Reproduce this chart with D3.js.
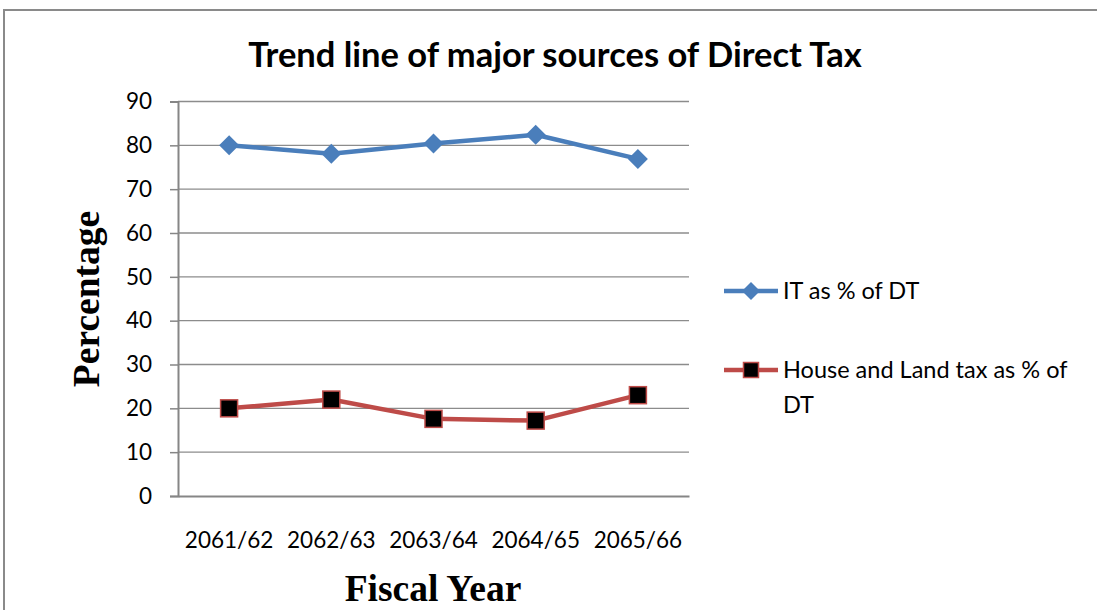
<!DOCTYPE html>
<html>
<head>
<meta charset="utf-8">
<script src="https://cdn.jsdelivr.net/npm/d3@7"></script>
<style>
  html, body { margin: 0; padding: 0; background: #ffffff; }
  svg { display: block; }
</style>
</head>
<body>
<svg id="chart" width="1097" height="610"></svg>
<script>
// Fiscal years (Nepali calendar) and the two shares of direct tax, in percent
const years = ["2061/62", "2062/63", "2063/64", "2064/65", "2065/66"];
const itShare = [80.0, 78.1, 80.4, 82.4, 76.9];
const houseLandShare = [20.0, 22.0, 17.6, 17.2, 23.0];
const yTicks = [0, 10, 20, 30, 40, 50, 60, 70, 80, 90];
const seriesNames = ["IT as % of DT", "House and Land tax as % of DT"];

const svg = d3.select("#chart");
const W = 1097, H = 610;
const plot = { left: 178, right: 689, top: 101.5, bottom: 496 };

const sansFont = "Lato, 'Open Sans', sans-serif";
const serifFont = "'Liberation Serif', 'DejaVu Serif', serif";

// outer chart frame
svg.append("rect")
  .attr("x", 4).attr("y", 10)
  .attr("width", W + 10).attr("height", H + 10)
  .attr("fill", "#ffffff")
  .attr("stroke", "#8a8a8a").attr("stroke-width", 2);

const x = d3.scaleBand().domain(years).range([plot.left, plot.right]);
const y = d3.scaleLinear().domain([0, 90]).range([plot.bottom, plot.top]);
const cx = d => x(d) + x.bandwidth() / 2;

// horizontal gridlines
svg.append("g")
  .selectAll("line")
  .data(yTicks.filter(t => t > 0))
  .join("line")
  .attr("x1", plot.left).attr("x2", plot.right)
  .attr("y1", d => y(d)).attr("y2", d => y(d))
  .attr("stroke", "#8c8c8c").attr("stroke-width", 1.3);

// y axis with outside ticks
const yAxis = svg.append("g")
  .attr("transform", `translate(${plot.left},0)`)
  .call(d3.axisLeft(y).tickValues(yTicks).tickSize(8).tickPadding(18).tickFormat(d3.format("d")));
yAxis.select(".domain").attr("stroke", "#868686").attr("stroke-width", 2);
yAxis.selectAll(".tick line").attr("stroke", "#868686").attr("stroke-width", 1.5);
yAxis.selectAll(".tick text")
  .attr("font-family", sansFont).attr("font-size", 22.5).attr("fill", "#000");

// x axis baseline, no tick marks
const xAxis = svg.append("g")
  .attr("transform", `translate(0,${plot.bottom})`)
  .call(d3.axisBottom(x).tickSize(0).tickPadding(36));
xAxis.select(".domain").attr("stroke", "#868686").attr("stroke-width", 2.2);
xAxis.selectAll(".tick text")
  .attr("font-family", sansFont).attr("font-size", 22.5).attr("fill", "#000");

// title
svg.append("text")
  .attr("x", 555).attr("y", 67)
  .attr("text-anchor", "middle")
  .attr("font-family", sansFont).attr("font-weight", "bold")
  .attr("font-size", 34.5).attr("fill", "#000")
  .text("Trend line of major sources of Direct Tax");

// axis titles
svg.append("text")
  .attr("transform", "translate(99,299) rotate(-90)")
  .attr("text-anchor", "middle")
  .attr("font-family", serifFont).attr("font-weight", "bold")
  .attr("font-size", 37.5).attr("fill", "#000")
  .text("Percentage");

svg.append("text")
  .attr("x", 433).attr("y", 601)
  .attr("text-anchor", "middle")
  .attr("font-family", serifFont).attr("font-weight", "bold")
  .attr("font-size", 37.5).attr("fill", "#000")
  .text("Fiscal Year");

const line = d3.line().x(d => cx(d.year)).y(d => y(d.value));
const itData = years.map((yr, i) => ({ year: yr, value: itShare[i] }));
const hlData = years.map((yr, i) => ({ year: yr, value: houseLandShare[i] }));

const blue = "#4a7ebb", red = "#be4b48";

// IT series: line with diamond markers
svg.append("path").datum(itData)
  .attr("d", line).attr("fill", "none")
  .attr("stroke", blue).attr("stroke-width", 4.5).attr("stroke-linejoin", "round");
const diamond = r => `M0,${-r}L${r},0L0,${r}L${-r},0Z`;
svg.append("g").selectAll("path")
  .data(itData).join("path")
  .attr("transform", d => `translate(${cx(d.year)},${y(d.value)})`)
  .attr("d", diamond(10)).attr("fill", blue);

// House and Land tax series: line with black square markers
svg.append("path").datum(hlData)
  .attr("d", line).attr("fill", "none")
  .attr("stroke", red).attr("stroke-width", 4.5).attr("stroke-linejoin", "round");
svg.append("g").selectAll("rect")
  .data(hlData).join("rect")
  .attr("x", d => cx(d.year) - 8.5).attr("y", d => y(d.value) - 8.5)
  .attr("width", 17).attr("height", 17)
  .attr("fill", "#000").attr("stroke", red).attr("stroke-width", 1.5);

// legend
const legend = svg.append("g");
const lx1 = 724, lx2 = 778, lMid = 751;
legend.append("line").attr("x1", lx1).attr("x2", lx2).attr("y1", 291).attr("y2", 291)
  .attr("stroke", blue).attr("stroke-width", 4.5);
legend.append("path").attr("transform", `translate(${lMid},291)`)
  .attr("d", diamond(9)).attr("fill", blue);
legend.append("text").attr("x", 783).attr("y", 299)
  .attr("font-family", sansFont).attr("font-size", 23.5).attr("fill", "#000")
  .text(seriesNames[0]);

legend.append("line").attr("x1", lx1).attr("x2", lx2).attr("y1", 370).attr("y2", 370)
  .attr("stroke", red).attr("stroke-width", 4.5);
legend.append("rect").attr("x", lMid - 7.5).attr("y", 362.5).attr("width", 15).attr("height", 15)
  .attr("fill", "#000").attr("stroke", red).attr("stroke-width", 1.5);
const hlWords = seriesNames[1].split(" ");
const hlText = legend.append("text")
  .attr("font-family", sansFont).attr("font-size", 23.5).attr("fill", "#000");
hlText.append("tspan").attr("x", 783).attr("y", 378).text(hlWords.slice(0, -1).join(" "));
hlText.append("tspan").attr("x", 783).attr("y", 413).text(hlWords[hlWords.length - 1]);
</script>
</body>
</html>
